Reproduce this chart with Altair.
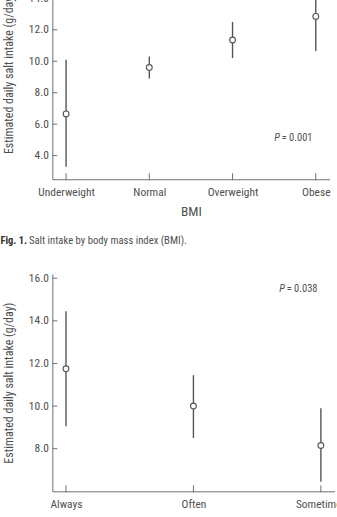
import altair as alt
import pandas as pd

# Fig. 1: salt intake by BMI group (mean with interval)
bmi_groups = ["Underweight", "Normal", "Overweight", "Obese"]
bmi_mean = [6.65, 9.6, 11.35, 12.85]
bmi_low = [3.3, 8.9, 10.2, 10.65]
bmi_high = [10.1, 10.3, 12.5, 15.0]
bmi_ticks = [4, 6, 8, 10, 12, 14]

# Second figure: salt intake by frequency group
freq_groups = ["Always", "Often", "Sometimes"]
freq_mean = [11.75, 10.0, 8.15]
freq_low = [9.05, 8.5, 6.45]
freq_high = [14.45, 11.45, 9.9]
freq_ticks = [8, 10, 12, 14, 16]

FONT = "Roboto Condensed, Liberation Sans, sans-serif"
INK = "#4f4f4f"
LINE = "#555555"
AXIS = "#707070"
Y_TITLE = "Estimated daily salt intake (g/day)"


def anchor(x, y):
    # invisible point that pins the outer bounds of the figure
    return alt.Chart(pd.DataFrame({"a": [0]})).mark_rule(
        opacity=0, strokeWidth=0.01).encode(
        x=alt.value(x), x2=alt.value(x + 0.01),
        y=alt.value(y), y2=alt.value(y + 0.01))


def panel(groups, mean, low, high, ticks, domain, width, height, pad,
          x_title, p_value, p_pos):
    df = pd.DataFrame({"group": groups, "mean": mean, "low": low, "high": high})
    if x_title:
        x_axis = alt.Axis(title=x_title, ticks=False, tickSize=0, labelAngle=0,
                          labelPadding=7, titlePadding=7)
    else:
        x_axis = alt.Axis(title=None, ticks=False, tickSize=0, labelAngle=0,
                          labelPadding=7)
    xs = alt.X("group:N", sort=groups,
               scale=alt.Scale(type="point", padding=pad), axis=x_axis)
    yscale = alt.Scale(domain=domain, nice=False, zero=False)
    yaxis = alt.Axis(values=ticks, format=".1f", ticks=False, tickSize=0,
                     grid=False, labelPadding=4, titlePadding=13)

    def ys(field):
        return alt.Y(field, scale=yscale, axis=yaxis, title=Y_TITLE)

    whiskers = alt.Chart(df).mark_rule(color=LINE, strokeWidth=1.4).encode(
        x=xs, y=ys("low:Q"), y2="high:Q")
    points = alt.Chart(df).mark_point(
        shape="circle", filled=False, color=LINE, size=34, strokeWidth=1.1,
        opacity=1, fill="white", fillOpacity=1).encode(x=xs, y=ys("mean:Q"))

    # inward tick marks on both axes
    ytick_df = pd.DataFrame({"v": ticks})
    yticks = alt.Chart(ytick_df).mark_rule(color=AXIS, strokeWidth=1).encode(
        y=ys("v:Q"), x=alt.value(0), x2=alt.value(5))
    xticks = alt.Chart(df).mark_rule(color=AXIS, strokeWidth=1).encode(
        x=xs, y=alt.value(height - 6), y2=alt.value(height + 1))

    p_italic = alt.Chart(pd.DataFrame({"t": ["P"]})).mark_text(
        font=FONT, fontSize=10.5, fontStyle="italic", color=INK,
        align="left", baseline="middle").encode(
        text="t:N", x=alt.value(p_pos[0]), y=alt.value(p_pos[1]))
    p_rest = alt.Chart(pd.DataFrame({"t": ["= " + p_value]})).mark_text(
        font=FONT, fontSize=10.5, color=INK, align="left",
        baseline="middle").encode(
        text="t:N", x=alt.value(p_pos[0] + 7.5), y=alt.value(p_pos[1]))

    return [whiskers, points, yticks, xticks, p_italic, p_rest]


TOP_W, TOP_H = 278, 213
BOT_W, BOT_H = 283, 218
GAP = 95

top_layers = panel(bmi_groups, bmi_mean, bmi_low, bmi_high, bmi_ticks,
                   [2.5, 16.0], TOP_W, TOP_H, 0.165, "BMI", "0.001",
                   (222.5, 172))

caption_bold = alt.Chart(pd.DataFrame({"t": ["Fig. 1."]})).mark_text(
    font=FONT, fontSize=10.5, fontWeight="bold", color="#333333",
    align="left", baseline="middle").encode(
    text="t:N", x=alt.value(-52), y=alt.value(275))
caption_text = alt.Chart(pd.DataFrame(
    {"t": ["Salt intake by body mass index (BMI)."]})).mark_text(
    font=FONT, fontSize=10.7, color=INK, align="left",
    baseline="middle").encode(
    text="t:N", x=alt.value(-23.5), y=alt.value(275))

top = alt.layer(*top_layers, caption_bold, caption_text,
                anchor(-80, -60)).properties(width=TOP_W, height=TOP_H)

bot_layers = panel(freq_groups, freq_mean, freq_low, freq_high,
                   freq_ticks, [6.0, 16.2], BOT_W, BOT_H, 0.107, None,
                   "0.038", (227.5, 15.5))
bottom = alt.layer(*bot_layers, anchor(400, 300)).properties(
    width=BOT_W, height=BOT_H)

# outer bounds: x from -80 to 400, y from -60 to TOP_H + GAP + 300
pad_left = 52.5 - 80
pad_top = -34 - 60
pad_right = 337 - (400 + 80) - pad_left
pad_bottom = 517 - (TOP_H + GAP + 300 + 60) - pad_top

chart = alt.vconcat(top, bottom, spacing=GAP, bounds="flush").properties(
    padding={"top": pad_top, "left": pad_left,
             "right": pad_right, "bottom": pad_bottom},
    background="white",
).configure_view(stroke=None).configure_axis(
    domainColor=AXIS, domainWidth=1,
    labelFont=FONT, labelColor=INK,
    titleFont=FONT, titleFontWeight="normal", titleColor=INK,
).configure_axisY(
    labelFontSize=11.5, titleFontSize=12,
).configure_axisX(
    labelFontSize=11.5, titleFontSize=13.5,
)

chart.save("out.html", embed_options={"renderer": "svg", "actions": False})
